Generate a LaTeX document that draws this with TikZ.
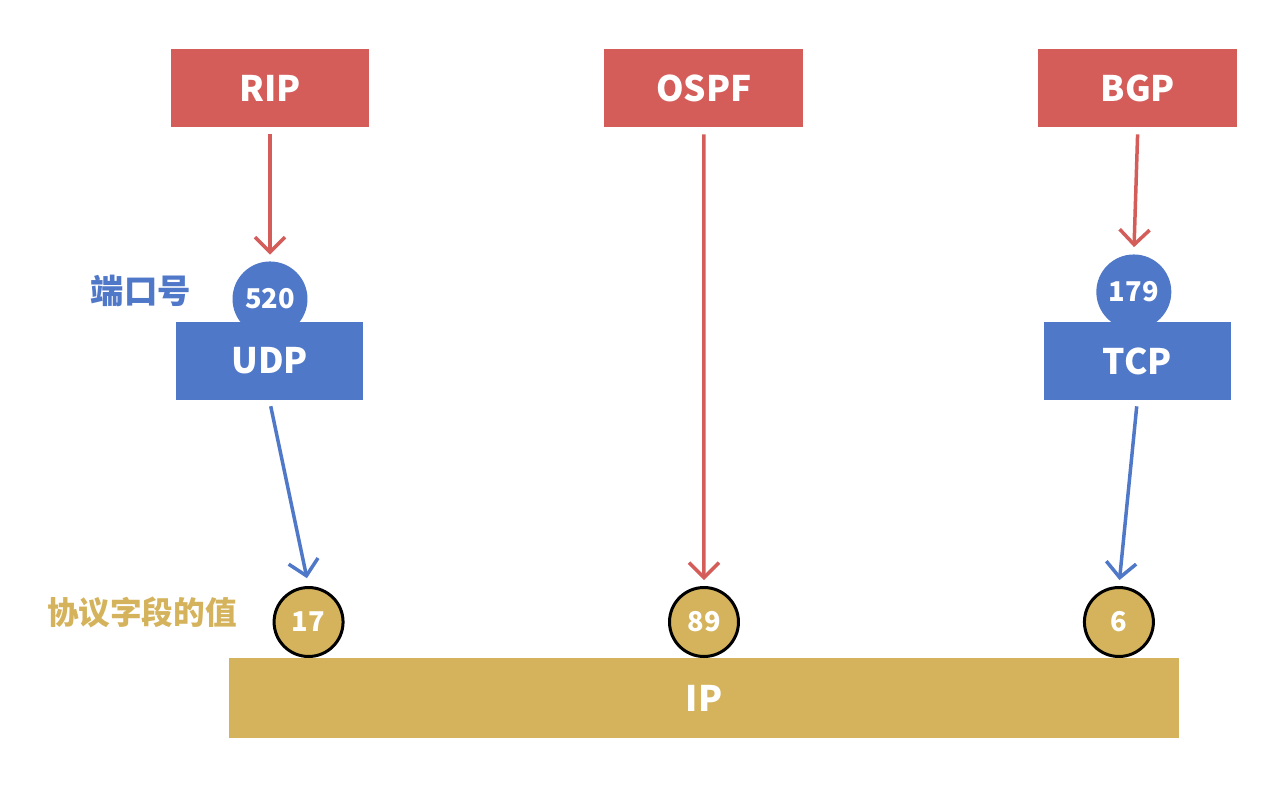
\documentclass[tikz,border=0pt]{standalone}
\usepackage{fontspec}
\setmainfont{Noto Sans CJK SC}
\usepackage{tikz}
\usetikzlibrary{arrows.meta, positioning}
\definecolor{protored}{HTML}{D45D5A}
\definecolor{portblue}{HTML}{5078C8}
\definecolor{ipgold}{HTML}{D4B35C}
\tikzstyle{proto} = [rectangle, minimum width=3.98cm, minimum height=1.56cm, align=center, fill=protored, text=white, font=\fontsize{20}{24}\selectfont\bfseries]
\tikzstyle{transport} = [rectangle, minimum width=3.74cm, minimum height=1.56cm, align=center, fill=portblue, text=white, font=\fontsize{20}{24}\selectfont\bfseries]
\tikzstyle{port} = [circle, minimum size=1.5cm, inner sep=0pt, fill=portblue, text=white, font=\fontsize{15.5}{18}\selectfont\bfseries]
\tikzstyle{field} = [circle, minimum size=1.38cm, inner sep=0pt, draw=black, line width=0.06cm, fill=ipgold, text=white, font=\fontsize{15.5}{18}\selectfont\bfseries]
\tikzstyle{network} = [rectangle, minimum width=19cm, minimum height=1.6cm, fill=ipgold, text=white, font=\fontsize{20}{24}\selectfont\bfseries]
\tikzstyle{note} = [font=\fontsize{18}{22}\selectfont\bfseries]
\tikzstyle{redarrow} = [line width=0.07cm, draw=protored, -{Straight Barb[length=0.3cm, width=0.6cm]}]
\tikzstyle{bluearrow} = [line width=0.07cm, draw=portblue, -{Straight Barb[length=0.3cm, width=0.6cm]}]

\begin{document}
\begin{tikzpicture}[x=0.02cm, y=-0.02cm]
            \useasboundingbox (0,0) rectangle (1286,786);

            % Nodes
            \node (rip) [proto] at (270,88) {RIP};
            \node (ospf) [proto, right of=rip, node distance=8.68cm] {OSPF};
            \node (bgp) [proto, right of=ospf, node distance=8.68cm] {BGP};

            \node (p520) [port, below of=rip, node distance=4.22cm] {520};
            \node (p179) [port, below of=bgp, node distance=4.08cm, xshift=-0.08cm] {179};

            \node (udp) [transport] at (269.5,361) {UDP};
            \node (tcp) [transport, right of=udp, node distance=17.36cm] {TCP};

            \node (ip) [network] at (704,698) {IP};
            \node (f89) [field, above of=ip, node distance=1.52cm] {89};
            \node (f17) [field, left of=f89, node distance=7.91cm] {17};
            \node (f6) [field, right of=f89, node distance=8.3cm] {6};

            \node (portlabel) [note, text=portblue, font=\fontsize{19}{22}\selectfont\bfseries] at (141,291) {端口号};
            \node (fieldlabel) [note, text=ipgold] at (142,612) {协议字段的值};

            % Edges
            \draw [redarrow, shorten <=0.14cm, shorten >=0.13cm] (rip) -- (p520);
            \draw [redarrow, shorten <=0.14cm, shorten >=0.12cm] (ospf) -- (f89);
            \draw [redarrow, shorten <=0.14cm, shorten >=0.14cm] (bgp.south) -- (p179.north);

            \draw [bluearrow, shorten <=0.12cm, shorten >=0.16cm] (udp.south) -- (f17.north);
            \draw [bluearrow, shorten <=0.12cm, shorten >=0.12cm] (tcp.south) -- (f6.north);

        \end{tikzpicture}
\end{document}
